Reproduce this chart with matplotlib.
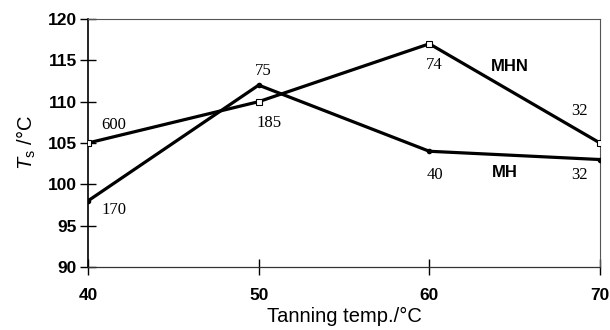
import matplotlib
matplotlib.use("Agg")
import matplotlib.pyplot as plt

plt.rcParams["mathtext.fontset"] = "custom"
plt.rcParams["mathtext.rm"] = "Liberation Sans"
plt.rcParams["mathtext.it"] = "Liberation Sans:italic"

temps = [40, 50, 60, 70]
mhn_ts = [105, 110, 117, 105]
mh_ts = [98, 112, 104, 103]
mhn_notes = ["600", "185", "74", "32"]
mh_notes = ["170", "75", "40", "32"]
x_ticks = [40, 50, 60, 70]
y_ticks = [90, 95, 100, 105, 110, 115, 120]

fig = plt.figure(figsize=(6.1, 3.3), dpi=100)
ax = fig.add_axes([88 / 610, 1 - 267 / 330, 512 / 610, 248 / 330])

ax.plot(temps, mh_ts, color="black", lw=2.3, marker="o", ms=3,
        mfc="black", mec="black", zorder=3)
ax.plot(temps, mhn_ts, color="black", lw=2.3, marker="s", ms=4,
        mfc="white", mec="black", mew=0.8, zorder=4)

ax.set_xlim(40, 70)
ax.set_ylim(90, 120)
ax.set_xticks(x_ticks)
ax.set_yticks(y_ticks)

bold = dict(family="Liberation Sans", weight="bold")
ax.set_xticklabels([str(t) for t in x_ticks], fontsize=12.5, **bold)
ax.set_yticklabels([str(t) for t in y_ticks], fontsize=12.5, **bold)
ax.tick_params(axis="both", direction="inout", length=12, width=1, color="black")
ax.tick_params(axis="x", pad=9)
ax.tick_params(axis="y", pad=2)

for side in ["top", "right"]:
    ax.spines[side].set_linewidth(0.8)
    ax.spines[side].set_color("#555555")
ax.spines["left"].set_linewidth(1.2)
ax.spines["bottom"].set_linewidth(0.9)
ax.spines["bottom"].set_color("#333333")

serif = dict(family="Liberation Serif", fontsize=12, ha="center", va="center")
# value notes beside the MHN points
ax.text(41.52, 107.2, mhn_notes[0], **serif)
ax.text(50.6, 107.4, mhn_notes[1], **serif)
ax.text(60.27, 114.4, mhn_notes[2], **serif)
ax.text(68.77, 108.9, mhn_notes[3], **serif)
# value notes beside the MH points
ax.text(41.52, 96.9, mh_notes[0], **serif)
ax.text(50.25, 113.7, mh_notes[1], **serif)
ax.text(60.33, 101.1, mh_notes[2], **serif)
ax.text(68.77, 101.1, mh_notes[3], **serif)

ax.text(64.7, 114.3, "MHN", fontsize=12, **bold, va="center", ha="center")
ax.text(64.4, 101.4, "MH", fontsize=12, **bold, va="center", ha="center")

ax.set_xlabel("Tanning temp./°C", family="Liberation Sans", fontsize=14.5, labelpad=3)
ax.set_ylabel(r"$T_\mathrm{s}$ /°C", family="Liberation Sans", fontsize=14.5, labelpad=7)

fig.savefig("out.png", dpi=100)
